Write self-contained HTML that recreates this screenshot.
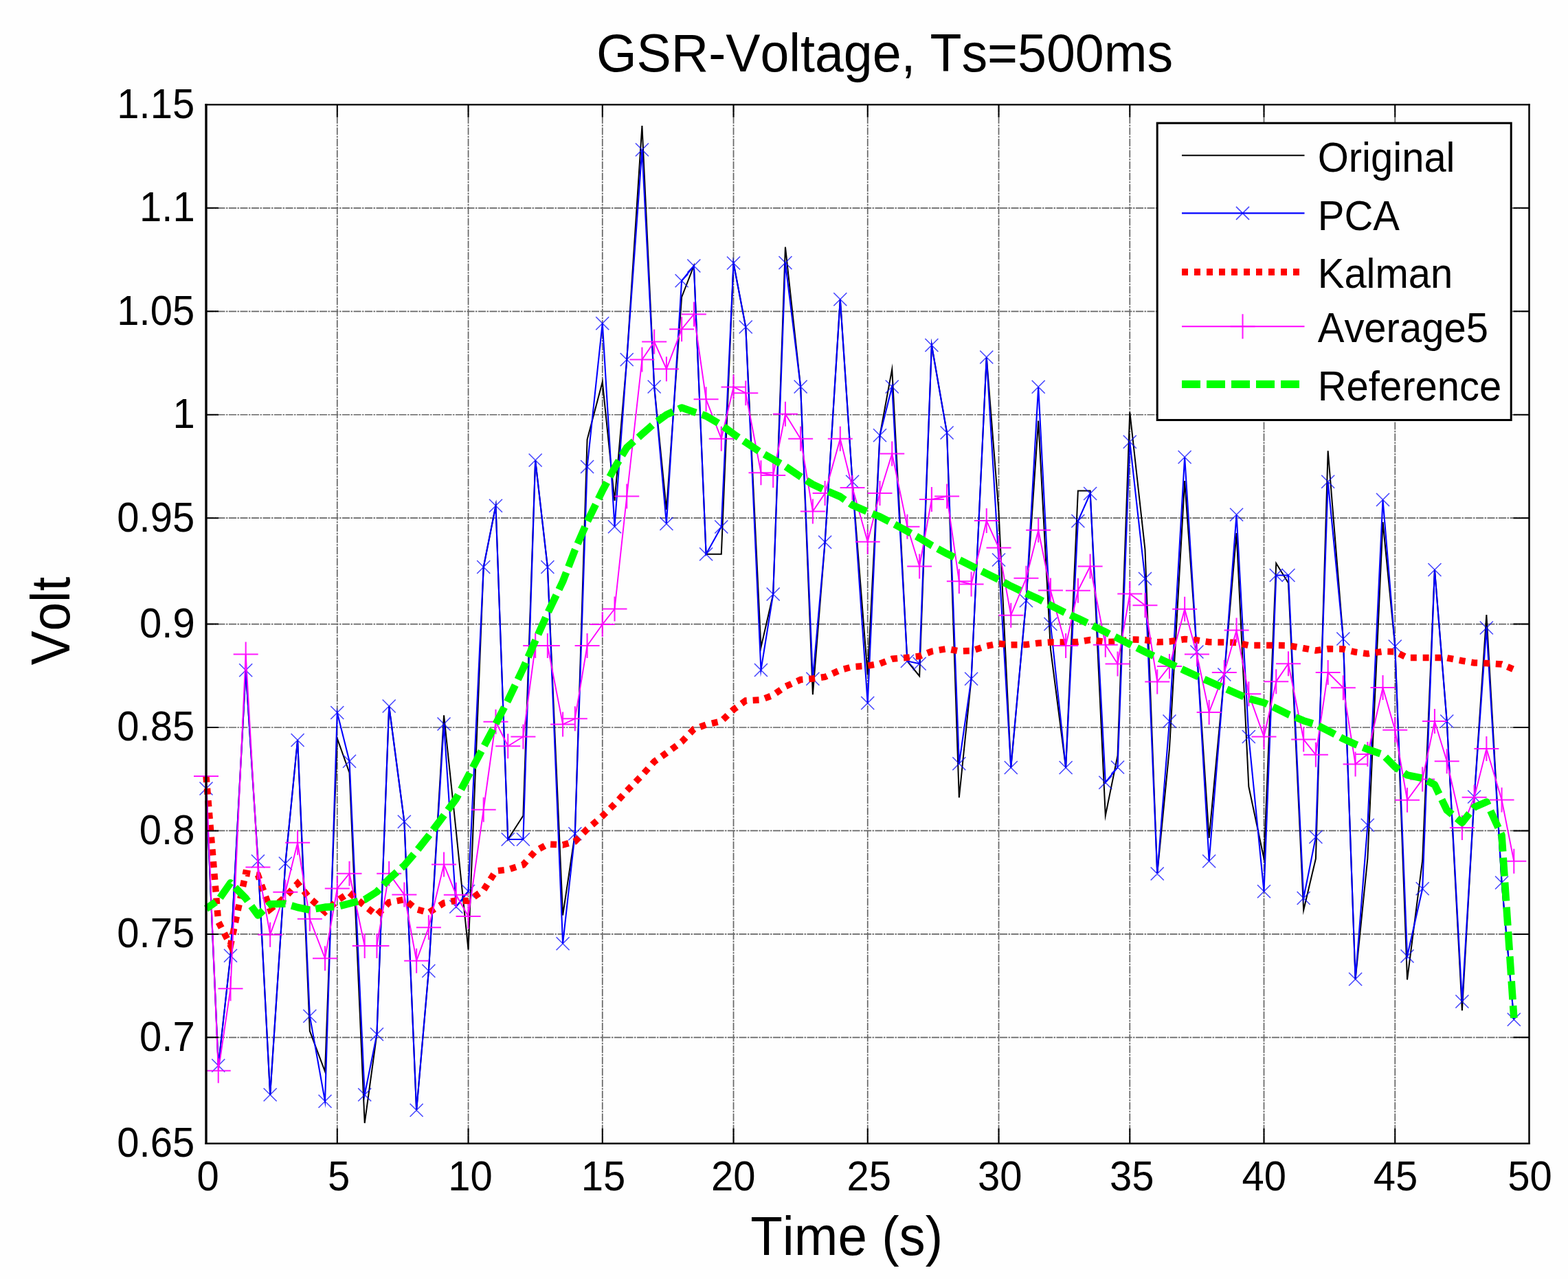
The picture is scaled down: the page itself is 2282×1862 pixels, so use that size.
<!DOCTYPE html>
<html lang="en"><head><meta charset="utf-8"><title>GSR-Voltage, Ts=500ms</title>
<style>html,body{margin:0;padding:0;background:#fff}body{width:2282px;height:1862px;overflow:hidden}svg{display:block}text{font-family:"Liberation Sans",sans-serif;fill:#000}</style></head><body>
<svg width="2282" height="1862" viewBox="0 0 2282 1862">
<rect x="0" y="0" width="2282" height="1862" fill="#fefefe"/>
<g stroke="#666" stroke-width="1.7" stroke-dasharray="11 1.5 2.5 1.5" fill="none">
<line x1="490.77" y1="152.4" x2="490.77" y2="1664.75"/>
<line x1="681.55" y1="152.4" x2="681.55" y2="1664.75"/>
<line x1="876.76" y1="152.4" x2="876.76" y2="1664.75"/>
<line x1="1067.53" y1="152.4" x2="1067.53" y2="1664.75"/>
<line x1="1262.74" y1="152.4" x2="1262.74" y2="1664.75"/>
<line x1="1453.52" y1="152.4" x2="1453.52" y2="1664.75"/>
<line x1="1644.29" y1="152.4" x2="1644.29" y2="1664.75"/>
<line x1="1839.5" y1="152.4" x2="1839.5" y2="1664.75"/>
<line x1="2030.27" y1="152.4" x2="2030.27" y2="1664.75"/>
<line x1="300" y1="302.84" x2="2225.5" y2="302.84"/>
<line x1="300" y1="453.28" x2="2225.5" y2="453.28"/>
<line x1="300" y1="603.73" x2="2225.5" y2="603.73"/>
<line x1="300" y1="754.17" x2="2225.5" y2="754.17"/>
<line x1="300" y1="908.57" x2="2225.5" y2="908.57"/>
<line x1="300" y1="1059.01" x2="2225.5" y2="1059.01"/>
<line x1="300" y1="1209.45" x2="2225.5" y2="1209.45"/>
<line x1="300" y1="1359.9" x2="2225.5" y2="1359.9"/>
<line x1="300" y1="1510.34" x2="2225.5" y2="1510.34"/>
</g>
<g fill="none" stroke-linejoin="miter" stroke-miterlimit="10">
<polyline points="300,1148 317.75,1551.25 335.49,1391.25 357.68,975.75 375.42,1253.75 393.17,1593.75 415.35,1257 433.1,1077.5 450.84,1501 473.03,1560 490.77,1075 508.52,1125 530.7,1635 548.45,1505.75 566.2,1028 588.38,1196.25 606.13,1616.25 623.87,1413.5 646.05,1041.25 663.8,1210 681.55,1382.5 703.73,825.5 721.48,736.25 739.22,1222 761.41,1187.5 779.15,670 796.9,825.5 819.08,1332.5 836.83,1213.75 854.58,640 876.76,556 894.5,729 912.25,523.5 934.43,183 952.18,563 969.93,742 992.11,432.5 1009.86,387 1027.6,806.75 1049.79,806.75 1067.53,383 1085.28,476 1107.46,942.5 1125.21,865 1142.95,359.5 1165.14,563 1182.88,1011.25 1200.63,789.25 1222.81,435.75 1240.56,701.25 1262.74,982.5 1280.49,633.75 1298.24,537.5 1320.42,962.5 1338.16,984.25 1355.91,502.5 1378.09,630 1395.84,1161.25 1413.59,988.25 1435.77,520 1453.52,745 1471.26,1117.5 1493.45,874.5 1511.19,612.5 1528.94,945 1551.12,1117.5 1568.87,714.5 1586.61,714.5 1608.8,1187.5 1626.54,1100 1644.29,600 1666.47,800 1684.22,1272 1701.97,1090 1724.15,700 1741.9,949 1759.64,1220 1781.82,982 1799.57,776 1817.32,1145 1839.5,1250 1857.25,820 1874.99,848.75 1897.18,1325 1914.92,1250 1932.67,656.25 1954.85,930 1972.6,1425.5 1990.34,1250 2012.53,760 2030.27,941 2048.02,1426.25 2070.2,1252.5 2087.95,829.5 2105.7,1050 2127.88,1471.25 2145.63,1160 2163.37,895 2185.56,1285 2203.3,1484.25" stroke="#000" stroke-width="2"/>
<polyline points="300,1148 317.75,1551.25 335.49,1391.25 357.68,975.75 375.42,1253.75 393.17,1593.75 415.35,1257 433.1,1077.5 450.84,1479.25 473.03,1603.25 490.77,1037.5 508.52,1108.25 530.7,1593.75 548.45,1505.75 566.2,1028 588.38,1196.25 606.13,1616.25 623.87,1413.5 646.05,1054 663.8,1320 681.55,1297.5 703.73,825.5 721.48,736.25 739.22,1222 761.41,1222 779.15,670 796.9,825.5 819.08,1373.75 836.83,1213.75 854.58,679.5 876.76,470.75 894.5,766.75 912.25,523.5 934.43,218 952.18,563 969.93,762.5 992.11,408.75 1009.86,387 1027.6,806.75 1049.79,767 1067.53,383 1085.28,476 1107.46,975.5 1125.21,865 1142.95,382.5 1165.14,563 1182.88,988.25 1200.63,789.25 1222.81,435.75 1240.56,701.25 1262.74,1023.5 1280.49,633.75 1298.24,563 1320.42,962.5 1338.16,966.25 1355.91,502.5 1378.09,630 1395.84,1111.75 1413.59,988.25 1435.77,520 1453.52,815 1471.26,1117.5 1493.45,874.5 1511.19,563.25 1528.94,908.5 1551.12,1117.5 1568.87,758.5 1586.61,718.5 1608.8,1139.25 1626.54,1117 1644.29,643.25 1666.47,842.5 1684.22,1272 1701.97,1050 1724.15,665.5 1741.9,949 1759.64,1253.75 1781.82,982 1799.57,749.25 1817.32,1072.5 1839.5,1297.75 1857.25,837.5 1874.99,837.5 1897.18,1307.5 1914.92,1218.5 1932.67,701.25 1954.85,930 1972.6,1425.5 1990.34,1201.25 2012.53,727.5 2030.27,941 2048.02,1392 2070.2,1293.75 2087.95,829.5 2105.7,1050 2127.88,1458 2145.63,1160 2163.37,914 2185.56,1285 2203.3,1484.25" stroke="#0000ff" stroke-width="2.1"/>
<path d="M290.5 1138.5l19 19M290.5 1157.5l19 -19M308.25 1541.75l19 19M308.25 1560.75l19 -19M325.99 1381.75l19 19M325.99 1400.75l19 -19M348.18 966.25l19 19M348.18 985.25l19 -19M365.92 1244.25l19 19M365.92 1263.25l19 -19M383.67 1584.25l19 19M383.67 1603.25l19 -19M405.85 1247.5l19 19M405.85 1266.5l19 -19M423.6 1068l19 19M423.6 1087l19 -19M441.34 1469.75l19 19M441.34 1488.75l19 -19M463.53 1593.75l19 19M463.53 1612.75l19 -19M481.27 1028l19 19M481.27 1047l19 -19M499.02 1098.75l19 19M499.02 1117.75l19 -19M521.2 1584.25l19 19M521.2 1603.25l19 -19M538.95 1496.25l19 19M538.95 1515.25l19 -19M556.7 1018.5l19 19M556.7 1037.5l19 -19M578.88 1186.75l19 19M578.88 1205.75l19 -19M596.63 1606.75l19 19M596.63 1625.75l19 -19M614.37 1404l19 19M614.37 1423l19 -19M636.55 1044.5l19 19M636.55 1063.5l19 -19M654.3 1310.5l19 19M654.3 1329.5l19 -19M672.05 1288l19 19M672.05 1307l19 -19M694.23 816l19 19M694.23 835l19 -19M711.98 726.75l19 19M711.98 745.75l19 -19M729.72 1212.5l19 19M729.72 1231.5l19 -19M751.91 1212.5l19 19M751.91 1231.5l19 -19M769.65 660.5l19 19M769.65 679.5l19 -19M787.4 816l19 19M787.4 835l19 -19M809.58 1364.25l19 19M809.58 1383.25l19 -19M827.33 1204.25l19 19M827.33 1223.25l19 -19M845.08 670l19 19M845.08 689l19 -19M867.26 461.25l19 19M867.26 480.25l19 -19M885 757.25l19 19M885 776.25l19 -19M902.75 514l19 19M902.75 533l19 -19M924.93 208.5l19 19M924.93 227.5l19 -19M942.68 553.5l19 19M942.68 572.5l19 -19M960.43 753l19 19M960.43 772l19 -19M982.61 399.25l19 19M982.61 418.25l19 -19M1000.36 377.5l19 19M1000.36 396.5l19 -19M1018.1 797.25l19 19M1018.1 816.25l19 -19M1040.29 757.5l19 19M1040.29 776.5l19 -19M1058.03 373.5l19 19M1058.03 392.5l19 -19M1075.78 466.5l19 19M1075.78 485.5l19 -19M1097.96 966l19 19M1097.96 985l19 -19M1115.71 855.5l19 19M1115.71 874.5l19 -19M1133.45 373l19 19M1133.45 392l19 -19M1155.64 553.5l19 19M1155.64 572.5l19 -19M1173.38 978.75l19 19M1173.38 997.75l19 -19M1191.13 779.75l19 19M1191.13 798.75l19 -19M1213.31 426.25l19 19M1213.31 445.25l19 -19M1231.06 691.75l19 19M1231.06 710.75l19 -19M1253.24 1014l19 19M1253.24 1033l19 -19M1270.99 624.25l19 19M1270.99 643.25l19 -19M1288.74 553.5l19 19M1288.74 572.5l19 -19M1310.92 953l19 19M1310.92 972l19 -19M1328.66 956.75l19 19M1328.66 975.75l19 -19M1346.41 493l19 19M1346.41 512l19 -19M1368.59 620.5l19 19M1368.59 639.5l19 -19M1386.34 1102.25l19 19M1386.34 1121.25l19 -19M1404.09 978.75l19 19M1404.09 997.75l19 -19M1426.27 510.5l19 19M1426.27 529.5l19 -19M1444.02 805.5l19 19M1444.02 824.5l19 -19M1461.76 1108l19 19M1461.76 1127l19 -19M1483.95 865l19 19M1483.95 884l19 -19M1501.69 553.75l19 19M1501.69 572.75l19 -19M1519.44 899l19 19M1519.44 918l19 -19M1541.62 1108l19 19M1541.62 1127l19 -19M1559.37 749l19 19M1559.37 768l19 -19M1577.11 709l19 19M1577.11 728l19 -19M1599.3 1129.75l19 19M1599.3 1148.75l19 -19M1617.04 1107.5l19 19M1617.04 1126.5l19 -19M1634.79 633.75l19 19M1634.79 652.75l19 -19M1656.97 833l19 19M1656.97 852l19 -19M1674.72 1262.5l19 19M1674.72 1281.5l19 -19M1692.47 1040.5l19 19M1692.47 1059.5l19 -19M1714.65 656l19 19M1714.65 675l19 -19M1732.4 939.5l19 19M1732.4 958.5l19 -19M1750.14 1244.25l19 19M1750.14 1263.25l19 -19M1772.32 972.5l19 19M1772.32 991.5l19 -19M1790.07 739.75l19 19M1790.07 758.75l19 -19M1807.82 1063l19 19M1807.82 1082l19 -19M1830 1288.25l19 19M1830 1307.25l19 -19M1847.75 828l19 19M1847.75 847l19 -19M1865.49 828l19 19M1865.49 847l19 -19M1887.68 1298l19 19M1887.68 1317l19 -19M1905.42 1209l19 19M1905.42 1228l19 -19M1923.17 691.75l19 19M1923.17 710.75l19 -19M1945.35 920.5l19 19M1945.35 939.5l19 -19M1963.1 1416l19 19M1963.1 1435l19 -19M1980.84 1191.75l19 19M1980.84 1210.75l19 -19M2003.03 718l19 19M2003.03 737l19 -19M2020.77 931.5l19 19M2020.77 950.5l19 -19M2038.52 1382.5l19 19M2038.52 1401.5l19 -19M2060.7 1284.25l19 19M2060.7 1303.25l19 -19M2078.45 820l19 19M2078.45 839l19 -19M2096.2 1040.5l19 19M2096.2 1059.5l19 -19M2118.38 1448.5l19 19M2118.38 1467.5l19 -19M2136.13 1150.5l19 19M2136.13 1169.5l19 -19M2153.87 904.5l19 19M2153.87 923.5l19 -19M2176.06 1275.5l19 19M2176.06 1294.5l19 -19M2193.8 1474.75l19 19M2193.8 1493.75l19 -19" stroke="#0000ff" stroke-opacity="0.72" stroke-width="1.6"/>
<polyline points="300,1130 317.75,1342 335.49,1376 357.68,1271 375.42,1274 393.17,1323.75 415.35,1306 433.1,1286.25 450.84,1307.5 473.03,1327.5 490.77,1311.25 508.52,1299.5 530.7,1318.75 548.45,1332.5 566.2,1313.75 588.38,1309.5 606.13,1323.75 623.87,1328.75 646.05,1314.5 663.8,1311 681.55,1311.5 703.73,1296 721.48,1268 739.22,1266 761.41,1259 779.15,1239 796.9,1229 819.08,1230 836.83,1225 854.58,1207 876.76,1188 894.5,1170.75 912.25,1151.25 934.43,1128.75 952.18,1108.75 969.93,1096.25 992.11,1080 1009.86,1061.5 1027.6,1055 1049.79,1050 1067.53,1033 1085.28,1020 1107.46,1018.75 1125.21,1012 1142.95,999.5 1165.14,989.5 1182.88,988 1200.63,985.5 1222.81,975.5 1240.56,970.75 1262.74,969.25 1280.49,966.25 1298.24,959.25 1320.42,957.25 1338.16,955.25 1355.91,948.25 1378.09,944.5 1395.84,948 1413.59,947.5 1435.77,940.5 1453.52,937 1471.26,938.75 1493.45,938.5 1511.19,936.25 1528.94,935 1551.12,935 1568.87,934.5 1586.61,931.5 1608.8,934.5 1626.54,934.25 1644.29,931 1666.47,931.5 1684.22,934.75 1701.97,934 1724.15,930.5 1741.9,932 1759.64,934.75 1781.82,935 1799.57,935.5 1817.32,939.5 1839.5,939.5 1857.25,939.5 1874.99,939.75 1897.18,943.75 1914.92,947 1932.67,944.5 1954.85,945 1972.6,949.25 1990.34,951.75 2012.53,948.5 2030.27,948.7 2048.02,957.5 2070.2,957.5 2087.95,957.5 2105.7,957.7 2127.88,962 2145.63,964.9 2163.37,965.6 2185.56,967 2203.3,974.6" stroke="#ff0000" stroke-width="9.5" stroke-dasharray="8.9 8.9"/>
<polyline points="300,1130 317.75,1558.75 335.49,1439.25 357.68,952.5 375.42,1262.5 393.17,1360.75 415.35,1298.75 433.1,1226.75 450.84,1337.75 473.03,1395.25 490.77,1293.5 508.52,1271.75 530.7,1377 548.45,1377 566.2,1271.75 588.38,1302.5 606.13,1398.75 623.87,1350.25 646.05,1258.5 663.8,1302.75 681.55,1334 703.73,1178.75 721.48,1050.75 739.22,1086.25 761.41,1072.5 779.15,940 796.9,940 819.08,1054.5 836.83,1046.25 854.58,940 876.76,909 894.5,886.5 912.25,722.5 934.43,523.5 952.18,497.5 969.93,537.25 992.11,479.25 1009.86,457.5 1027.6,581.25 1049.79,638.75 1067.53,563.5 1085.28,572.25 1107.46,688.25 1125.21,692 1142.95,602.75 1165.14,638.75 1182.88,744.5 1200.63,718 1222.81,638.75 1240.56,710 1262.74,788.75 1280.49,718 1298.24,660.5 1320.42,766.75 1338.16,824.5 1355.91,727 1378.09,722.5 1395.84,846.25 1413.59,850.5 1435.77,758 1453.52,797.5 1471.26,895.75 1493.45,841.75 1511.19,771.75 1528.94,859.5 1551.12,940 1568.87,859.75 1586.61,824.5 1608.8,938.75 1626.54,966.5 1644.29,864.5 1666.47,881.25 1684.22,992.5 1701.97,970 1724.15,886.75 1741.9,952.5 1759.64,1037 1781.82,979 1799.57,917.5 1817.32,1010.25 1839.5,1072.5 1857.25,992.25 1874.99,966.25 1897.18,1076.5 1914.92,1098.75 1932.67,979 1954.85,1001.25 1972.6,1112.5 1990.34,1098 2012.53,1001 2030.27,1062.75 2048.02,1164.75 2070.2,1134.5 2087.95,1050 2105.7,1108.25 2127.88,1205 2145.63,1160.75 2163.37,1090 2185.56,1164.5 2203.3,1253.75" stroke="#ff00ff" stroke-width="1.9"/>
<path d="M282 1130h36M300 1112v36M299.75 1558.75h36M317.75 1540.75v36M317.49 1439.25h36M335.49 1421.25v36M339.68 952.5h36M357.68 934.5v36M357.42 1262.5h36M375.42 1244.5v36M375.17 1360.75h36M393.17 1342.75v36M397.35 1298.75h36M415.35 1280.75v36M415.1 1226.75h36M433.1 1208.75v36M432.84 1337.75h36M450.84 1319.75v36M455.03 1395.25h36M473.03 1377.25v36M472.77 1293.5h36M490.77 1275.5v36M490.52 1271.75h36M508.52 1253.75v36M512.7 1377h36M530.7 1359v36M530.45 1377h36M548.45 1359v36M548.2 1271.75h36M566.2 1253.75v36M570.38 1302.5h36M588.38 1284.5v36M588.13 1398.75h36M606.13 1380.75v36M605.87 1350.25h36M623.87 1332.25v36M628.05 1258.5h36M646.05 1240.5v36M645.8 1302.75h36M663.8 1284.75v36M663.55 1334h36M681.55 1316v36M685.73 1178.75h36M703.73 1160.75v36M703.48 1050.75h36M721.48 1032.75v36M721.22 1086.25h36M739.22 1068.25v36M743.41 1072.5h36M761.41 1054.5v36M761.15 940h36M779.15 922v36M778.9 940h36M796.9 922v36M801.08 1054.5h36M819.08 1036.5v36M818.83 1046.25h36M836.83 1028.25v36M836.58 940h36M854.58 922v36M858.76 909h36M876.76 891v36M876.5 886.5h36M894.5 868.5v36M894.25 722.5h36M912.25 704.5v36M916.43 523.5h36M934.43 505.5v36M934.18 497.5h36M952.18 479.5v36M951.93 537.25h36M969.93 519.25v36M974.11 479.25h36M992.11 461.25v36M991.86 457.5h36M1009.86 439.5v36M1009.6 581.25h36M1027.6 563.25v36M1031.79 638.75h36M1049.79 620.75v36M1049.53 563.5h36M1067.53 545.5v36M1067.28 572.25h36M1085.28 554.25v36M1089.46 688.25h36M1107.46 670.25v36M1107.21 692h36M1125.21 674v36M1124.95 602.75h36M1142.95 584.75v36M1147.14 638.75h36M1165.14 620.75v36M1164.88 744.5h36M1182.88 726.5v36M1182.63 718h36M1200.63 700v36M1204.81 638.75h36M1222.81 620.75v36M1222.56 710h36M1240.56 692v36M1244.74 788.75h36M1262.74 770.75v36M1262.49 718h36M1280.49 700v36M1280.24 660.5h36M1298.24 642.5v36M1302.42 766.75h36M1320.42 748.75v36M1320.16 824.5h36M1338.16 806.5v36M1337.91 727h36M1355.91 709v36M1360.09 722.5h36M1378.09 704.5v36M1377.84 846.25h36M1395.84 828.25v36M1395.59 850.5h36M1413.59 832.5v36M1417.77 758h36M1435.77 740v36M1435.52 797.5h36M1453.52 779.5v36M1453.26 895.75h36M1471.26 877.75v36M1475.45 841.75h36M1493.45 823.75v36M1493.19 771.75h36M1511.19 753.75v36M1510.94 859.5h36M1528.94 841.5v36M1533.12 940h36M1551.12 922v36M1550.87 859.75h36M1568.87 841.75v36M1568.61 824.5h36M1586.61 806.5v36M1590.8 938.75h36M1608.8 920.75v36M1608.54 966.5h36M1626.54 948.5v36M1626.29 864.5h36M1644.29 846.5v36M1648.47 881.25h36M1666.47 863.25v36M1666.22 992.5h36M1684.22 974.5v36M1683.97 970h36M1701.97 952v36M1706.15 886.75h36M1724.15 868.75v36M1723.9 952.5h36M1741.9 934.5v36M1741.64 1037h36M1759.64 1019v36M1763.82 979h36M1781.82 961v36M1781.57 917.5h36M1799.57 899.5v36M1799.32 1010.25h36M1817.32 992.25v36M1821.5 1072.5h36M1839.5 1054.5v36M1839.25 992.25h36M1857.25 974.25v36M1856.99 966.25h36M1874.99 948.25v36M1879.18 1076.5h36M1897.18 1058.5v36M1896.92 1098.75h36M1914.92 1080.75v36M1914.67 979h36M1932.67 961v36M1936.85 1001.25h36M1954.85 983.25v36M1954.6 1112.5h36M1972.6 1094.5v36M1972.34 1098h36M1990.34 1080v36M1994.53 1001h36M2012.53 983v36M2012.27 1062.75h36M2030.27 1044.75v36M2030.02 1164.75h36M2048.02 1146.75v36M2052.2 1134.5h36M2070.2 1116.5v36M2069.95 1050h36M2087.95 1032v36M2087.7 1108.25h36M2105.7 1090.25v36M2109.88 1205h36M2127.88 1187v36M2127.63 1160.75h36M2145.63 1142.75v36M2145.37 1090h36M2163.37 1072v36M2167.56 1164.5h36M2185.56 1146.5v36M2185.3 1253.75h36M2203.3 1235.75v36" stroke="#ff00ff" stroke-opacity="0.9" stroke-width="2.1"/>
<polyline points="300,1322.9 317.75,1310.6 335.49,1285.3 357.68,1307.8 375.42,1332.5 393.17,1316.3 415.35,1315.7 433.1,1321 450.84,1324.7 473.03,1320.6 490.77,1320 508.52,1315.3 530.7,1309.7 548.45,1298.4 566.2,1279.6 588.38,1259.9 606.13,1239.2 623.87,1216.7 646.05,1187.1 663.8,1163 681.55,1129.6 703.73,1087.5 721.48,1054 739.22,1019.6 761.41,973 779.15,932.7 796.9,892.9 819.08,846.5 836.83,800.5 854.58,759.7 876.76,714.3 894.5,681 912.25,651.5 934.43,632.1 952.18,616.5 969.93,603.8 992.11,593.5 1009.86,599.7 1027.6,605.6 1049.79,618.6 1067.53,631.8 1085.28,643.9 1107.46,658.7 1125.21,668.7 1142.95,678.8 1165.14,694 1182.88,705.3 1200.63,713.6 1222.81,723 1240.56,735.4 1262.74,745.1 1280.49,752.2 1298.24,761.4 1320.42,773.4 1338.16,783.3 1355.91,794 1378.09,806.1 1395.84,814.9 1413.59,823.8 1435.77,834.9 1453.52,843.8 1471.26,853.3 1493.45,863.9 1511.19,871.9 1528.94,881.2 1551.12,892.4 1568.87,900.3 1586.61,909 1608.8,920.1 1626.54,929 1644.29,937.9 1666.47,949 1684.22,957.4 1701.97,965.7 1724.15,976.1 1741.9,984.2 1759.64,992 1781.82,1001.8 1799.57,1009.7 1817.32,1017.1 1839.5,1023 1857.25,1031.2 1874.99,1040 1897.18,1049.2 1914.92,1054.7 1932.67,1063.7 1954.85,1075.5 1972.6,1083.6 1990.34,1090.8 2012.53,1098.5 2030.27,1116.5 2048.02,1128.4 2070.2,1132.9 2087.95,1142.5 2105.7,1179.4 2127.88,1197.7 2145.63,1175.2 2163.37,1167.5 2185.56,1216 2203.3,1482" stroke="#00ff00" stroke-width="10.6" stroke-linejoin="round" stroke-dasharray="27 9" stroke-dashoffset="10"/>
</g>
<g stroke="#000" fill="none">
<path d="M298.4 152.4H2226.7M298.4 1664.75H2226.7" stroke-width="2.4"/>
<path d="M300 151.2V1665.95" stroke-width="3.4"/>
<path d="M2225.5 151.2V1665.95" stroke-width="2.5"/>
<path d="M490.77 1664.75v-22M490.77 152.4v18M681.55 1664.75v-22M681.55 152.4v18M876.76 1664.75v-22M876.76 152.4v18M1067.53 1664.75v-22M1067.53 152.4v18M1262.74 1664.75v-22M1262.74 152.4v18M1453.52 1664.75v-22M1453.52 152.4v18M1644.29 1664.75v-22M1644.29 152.4v18M1839.5 1664.75v-22M1839.5 152.4v18M2030.27 1664.75v-22M2030.27 152.4v18M300 302.84h18M2225.5 302.84h-23M300 453.28h18M2225.5 453.28h-23M300 603.73h18M2225.5 603.73h-23M300 754.17h18M2225.5 754.17h-23M300 908.57h18M2225.5 908.57h-23M300 1059.01h18M2225.5 1059.01h-23M300 1209.45h18M2225.5 1209.45h-23M300 1359.9h18M2225.5 1359.9h-23M300 1510.34h18M2225.5 1510.34h-23" stroke-width="2"/>
</g>
<rect x="1684.2" y="179.2" width="515" height="432.3" fill="#fefefe" stroke="#000" stroke-width="3"/>
<g fill="none">
<line x1="1720" y1="226.2" x2="1898.5" y2="226.2" stroke="#000" stroke-width="2"/>
<line x1="1720" y1="310.4" x2="1898.5" y2="310.4" stroke="#0000ff" stroke-width="2.1"/>
<path d="M1799 300.9l19 19M1799 319.9l19 -19" stroke="#0000ff" stroke-opacity="0.72" stroke-width="1.6"/>
<line x1="1720" y1="396" x2="1898.5" y2="396" stroke="#ff0000" stroke-width="10" stroke-dasharray="9 9"/>
<line x1="1720" y1="475.3" x2="1898.5" y2="475.3" stroke="#ff00ff" stroke-width="1.9"/>
<path d="M1790.5 475.3h36M1808.5 457.3v36" stroke="#ff00ff" stroke-opacity="0.9" stroke-width="2.1"/>
<line x1="1720" y1="559.3" x2="1891.5" y2="559.3" stroke="#00ff00" stroke-width="11.2" stroke-dasharray="27 9"/>
</g>
<g style="font-kerning:none">
<text transform="translate(1917.7 250.4) scale(1.0000 1.0500)" font-size="58">Original</text>
<text transform="translate(1917.7 334.6) scale(1.0000 1.0500)" font-size="58">PCA</text>
<text transform="translate(1917.7 419.1) scale(1.0000 1.0500)" font-size="58">Kalman</text>
<text transform="translate(1917.7 498.1) scale(1.0000 1.0500)" font-size="58">Average5</text>
<text transform="translate(1917.7 583.1) scale(1.0000 1.0500)" font-size="58">Reference</text>
<text transform="translate(170.31 171.8) scale(1.0000 1.0400)" font-size="58">1.15</text>
<text transform="translate(203.08 322.24) scale(1.0000 1.0400)" font-size="58">1.1</text>
<text transform="translate(170.31 472.68) scale(1.0000 1.0400)" font-size="58">1.05</text>
<text transform="translate(251.51 623.13) scale(1.0000 1.0400)" font-size="58">1</text>
<text transform="translate(170.31 773.57) scale(1.0000 1.0400)" font-size="58">0.95</text>
<text transform="translate(203.08 927.97) scale(1.0000 1.0400)" font-size="58">0.9</text>
<text transform="translate(170.31 1078.41) scale(1.0000 1.0400)" font-size="58">0.85</text>
<text transform="translate(202.79 1228.85) scale(1.0000 1.0400)" font-size="58">0.8</text>
<text transform="translate(170.31 1379.3) scale(1.0000 1.0400)" font-size="58">0.75</text>
<text transform="translate(203.08 1529.74) scale(1.0000 1.0400)" font-size="58">0.7</text>
<text transform="translate(170.31 1684.14) scale(1.0000 1.0400)" font-size="58">0.65</text>
<text transform="translate(286.4 1733.2) scale(1.0000 1.0400)" font-size="58">0</text>
<text transform="translate(477 1733.2) scale(1.0000 1.0400)" font-size="58">5</text>
<text transform="translate(652.25 1733.2) scale(1.0000 1.0400)" font-size="58">10</text>
<text transform="translate(845.69 1733.2) scale(1.0000 1.0400)" font-size="58">15</text>
<text transform="translate(1034.97 1733.2) scale(1.0000 1.0400)" font-size="58">20</text>
<text transform="translate(1232.62 1733.2) scale(1.0000 1.0400)" font-size="58">25</text>
<text transform="translate(1422.91 1733.2) scale(1.0000 1.0400)" font-size="58">30</text>
<text transform="translate(1614.91 1733.2) scale(1.0000 1.0400)" font-size="58">35</text>
<text transform="translate(1807.5 1733.2) scale(1.0000 1.0400)" font-size="58">40</text>
<text transform="translate(1998.84 1733.2) scale(1.0000 1.0400)" font-size="58">45</text>
<text transform="translate(2194.26 1733.2) scale(1.0000 1.0400)" font-size="58">50</text>
<text transform="translate(867.98 104.3) scale(1.0040 1.0400)" font-size="75">GSR-Voltage, Ts=500ms</text>
<text transform="translate(1092.19 1827.2) scale(1.0052 1.0400)" font-size="76">Time (s)</text>
<text transform="translate(100.5 968.37) rotate(-90) scale(0.9965 1.065)" font-size="75">Volt</text>
</g>
</svg></body></html>
